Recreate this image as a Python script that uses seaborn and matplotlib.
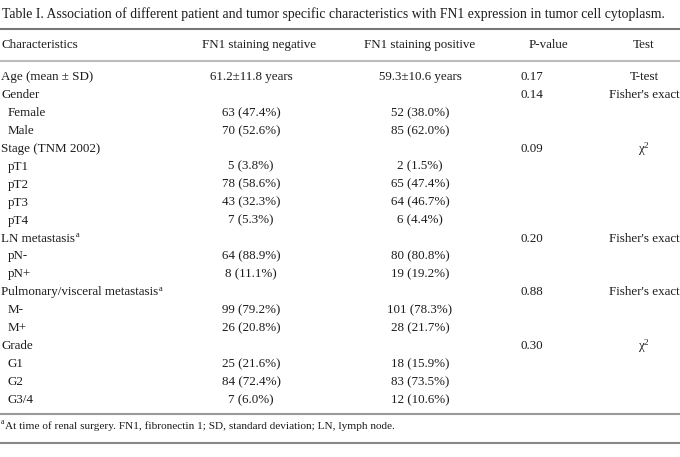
import matplotlib
matplotlib.use("Agg")
import matplotlib.pyplot as plt
import seaborn as sns

# table content
title = ("Table I. Association of different patient and tumor specific "
         "characteristics with FN1 expression in tumor cell cytoplasm.")
headers = ["Characteristics", "FN1 staining negative", "FN1 staining positive",
           "P-value", "Test"]
row_labels = ["Age (mean ± SD)", "Gender", "Female", "Male", "Stage (TNM 2002)",
              "pT1", "pT2", "pT3", "pT4", "LN metastasis",
              "pN-", "pN+", "Pulmonary/visceral metastasis",
              "M-", "M+", "Grade", "G1", "G2", "G3/4"]
row_level = [0, 0, 1, 1, 0, 1, 1, 1, 1, 0, 1, 1, 0, 1, 1, 0, 1, 1, 1]
row_note = ["", "", "", "", "", "", "", "", "", "a", "", "", "a",
            "", "", "", "", "", ""]
neg_values = ["61.2±11.8 years", "", "63 (47.4%)", "70 (52.6%)", "",
              "5 (3.8%)", "78 (58.6%)", "43 (32.3%)", "7 (5.3%)", "",
              "64 (88.9%)", "8 (11.1%)", "", "99 (79.2%)", "26 (20.8%)", "",
              "25 (21.6%)", "84 (72.4%)", "7 (6.0%)"]
pos_values = ["59.3±10.6 years", "", "52 (38.0%)", "85 (62.0%)", "",
              "2 (1.5%)", "65 (47.4%)", "64 (46.7%)", "6 (4.4%)", "",
              "80 (80.8%)", "19 (19.2%)", "", "101 (78.3%)", "28 (21.7%)", "",
              "18 (15.9%)", "83 (73.5%)", "12 (10.6%)"]
p_values = ["0.17", "0.14", "", "", "0.09", "", "", "", "", "0.20", "", "",
            "0.88", "", "", "0.30", "", "", ""]
tests = ["T-test", "Fisher's exact", "", "", "χ$^{2}$", "", "", "", "",
         "Fisher's exact", "", "", "Fisher's exact", "", "", "χ$^{2}$",
         "", "", ""]
footnote = ("At time of renal surgery. FN1, fibronectin 1; "
            "SD, standard deviation; LN, lymph node.")

sns.set_theme(style="white")
plt.rcParams["font.family"] = ["Liberation Serif", "DejaVu Serif"]
plt.rcParams["mathtext.fontset"] = "custom"
plt.rcParams["mathtext.rm"] = "Liberation Serif"
plt.rcParams["mathtext.it"] = "Liberation Serif:italic"

ink = "#1c1c1c"
fs = 9.4

fig = plt.figure(figsize=(6.8, 4.57), dpi=100)
ax = fig.add_axes([0, 0, 1, 1])
ax.set_xlim(0, 680)
ax.set_ylim(457, 0)
ax.axis("off")

ax.text(2, 14, title, ha="left", va="center", fontsize=9.9, color=ink)

# header
head_x = [1, 259, 420, 548, 644]
head_ha = ["left", "center", "center", "center", "center"]
for h, x, ha in zip(headers, head_x, head_ha):
    ax.text(x, 45, h, ha=ha, va="center", fontsize=fs, color=ink)

# rules
ax.axhline(29, color="#777777", lw=1.5)
ax.axhline(61, color="#bbbbbb", lw=1.5)
ax.axhline(414, color="#999999", lw=1.5)
ax.axhline(443, color="#888888", lw=1.5)


def add_note(t, note, y, size):
    # small superscript letter right after a text object
    fig.canvas.draw()
    bb = t.get_window_extent().transformed(ax.transData.inverted())
    ax.text(bb.x1 + 0.5, y - 1.5, note, ha="left", va="baseline",
            fontsize=size, color=ink)


# body rows
y0, step = 77, 17.95
for i, lab in enumerate(row_labels):
    y = y0 + i * step
    t = ax.text(1 + 7 * row_level[i], y, lab, ha="left", va="center",
                fontsize=fs, color=ink)
    if row_note[i]:
        add_note(t, row_note[i], y, 6)
    ax.text(251, y, neg_values[i], ha="center", va="center",
            fontsize=fs, color=ink)
    ax.text(420, y, pos_values[i], ha="center", va="center",
            fontsize=fs, color=ink)
    ax.text(532, y, p_values[i], ha="center", va="center",
            fontsize=fs, color=ink)
    ax.text(644, y, tests[i], ha="center", va="center",
            fontsize=fs, color=ink)

ax.text(1, 424.5, "a", ha="left", va="baseline", fontsize=5.5, color=ink)
ax.text(5, 426, footnote, ha="left", va="center", fontsize=8.15, color=ink)

fig.savefig("out.png", dpi=100, facecolor="white")
